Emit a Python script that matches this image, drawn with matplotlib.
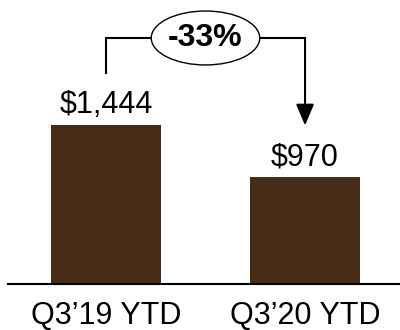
import matplotlib.pyplot as plt
from matplotlib.patches import Ellipse

plt.rcParams['font.family'] = ['Liberation Sans', 'DejaVu Sans']

periods = ["Q3\u201919 YTD", "Q3\u201920 YTD"]
values = [1444, 970]
bar_color = '#472c18'

fig = plt.figure(figsize=(4, 3.3), dpi=100)
ax = fig.add_axes([0.02, 0.1394, 0.98, 0.8606])

x = list(range(len(values)))
ax.bar(x, values, width=0.553, color=bar_color, zorder=2)

# value labels above each bar
for xi, v in zip(x, values):
    ax.text(xi, v + 110, f"${v:,}", ha='center', va='baseline', fontsize=22)

# change bracket from first bar to second
change = round((values[1] - values[0]) / values[0] * 100)
gap = 470
top = 2234
ax.plot([x[0], x[0], x[1]], [values[0] + gap, top, top], color='black',
        lw=1.5, solid_joinstyle='miter', zorder=3)
ax.annotate('', xy=(x[1], values[1] + gap), xytext=(x[1], top),
            arrowprops=dict(arrowstyle='-|>,head_length=13,head_width=5.5',
                            mutation_scale=1, color='black', lw=1.5,
                            shrinkA=0, shrinkB=0), zorder=3)
mid = (x[0] + x[1]) / 2
ax.add_patch(Ellipse((mid, top), width=0.545, height=490, facecolor='white',
                     edgecolor='black', lw=1, zorder=4))
ax.text(mid, top, f"{change}%", ha='center', va='center', fontsize=23,
        fontweight='bold', zorder=5)

ax.set_xlim(-0.492, 1.477)
ax.set_ylim(0, 2579)
ax.set_xticks(x)
ax.set_xticklabels(periods, fontsize=22)
ax.tick_params(axis='x', length=0, pad=12)
ax.set_yticks([])
for side in ['left', 'right', 'top']:
    ax.spines[side].set_visible(False)
ax.spines['bottom'].set_linewidth(1.5)

fig.savefig('out.png', dpi=100)
